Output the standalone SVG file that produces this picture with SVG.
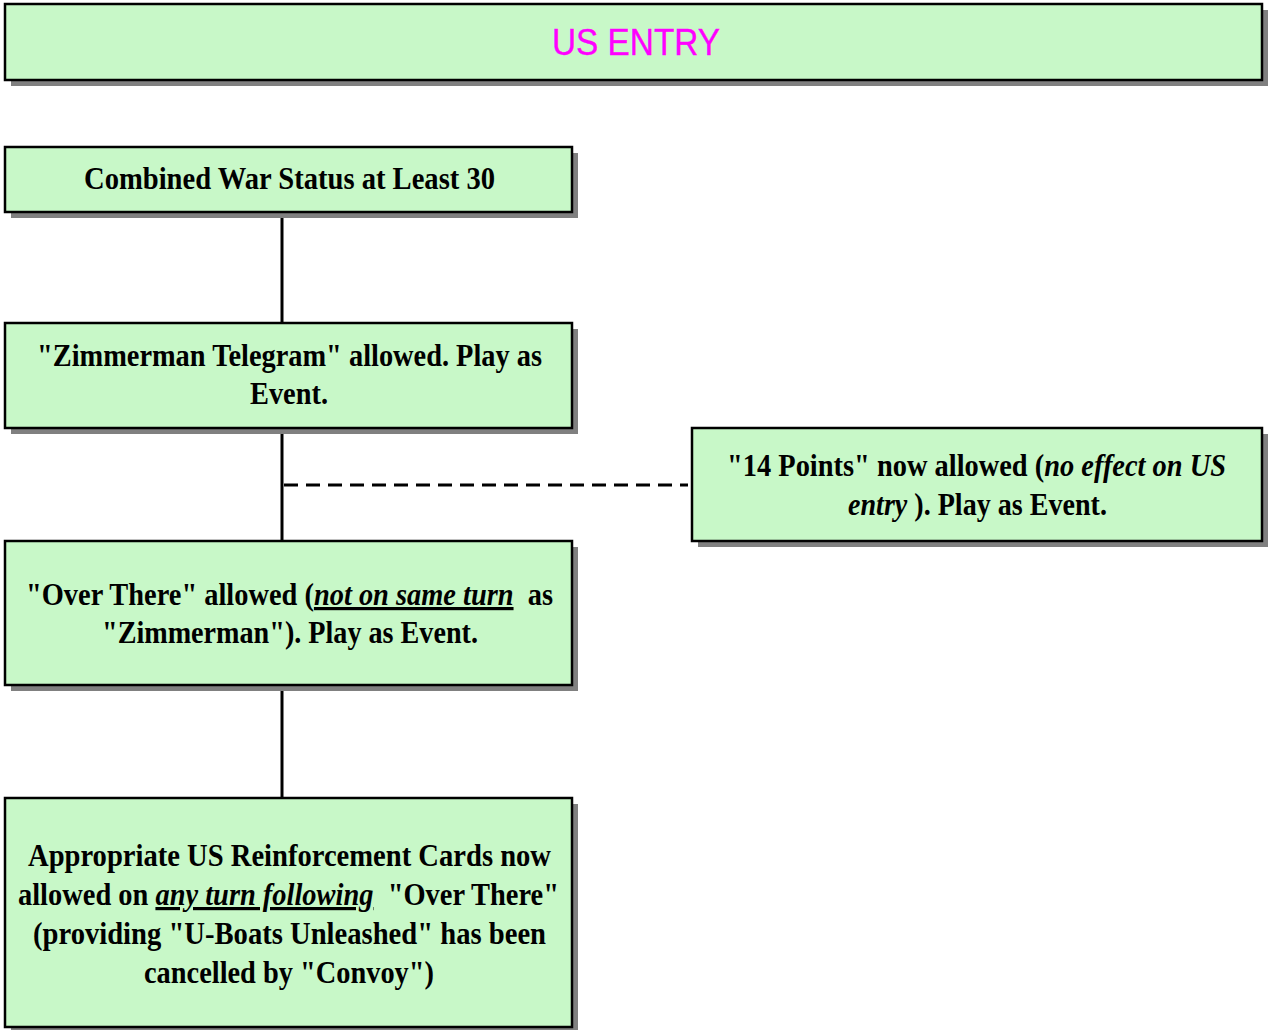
<svg xmlns="http://www.w3.org/2000/svg" width="1269" height="1030" viewBox="0 0 1269 1030">
<style>
.box{fill:#C8F8C8;stroke:#000;stroke-width:2.5}
.sh{fill:#808080}
.t{font-family:"Liberation Serif","Times New Roman",serif;font-weight:bold;font-size:32px;fill:#000}
.i{font-style:italic}
.ul{text-decoration:underline}
.c{stroke:#000;stroke-width:3;fill:none}
</style>
<rect width="1269" height="1030" fill="#fff"/>
<g id="connectors">
<line class="c" x1="282" y1="212" x2="282" y2="323"/>
<line class="c" x1="282" y1="428" x2="282" y2="541"/>
<line class="c" x1="282" y1="685" x2="282" y2="798"/>
<line class="c" x1="284" y1="485" x2="688" y2="485" stroke-dasharray="14,8"/>
</g>
<g id="title">
<rect class="sh" x="11" y="10" width="1257" height="76"/>
<rect class="box" x="5" y="4" width="1257" height="76"/>
<text x="552" y="55" textLength="168" lengthAdjust="spacingAndGlyphs" style="font-family:'Liberation Sans',Arial,sans-serif;font-size:37px;fill:#FF00FF;stroke:#FF00FF;stroke-width:0.4">US ENTRY</text>
</g>
<g id="n1">
<rect class="sh" x="11" y="153" width="567" height="65"/>
<rect class="box" x="5" y="147" width="567" height="65"/>
<text class="t" x="84" y="189" textLength="411" lengthAdjust="spacingAndGlyphs">Combined War Status at Least 30</text>
</g>
<g id="n2">
<rect class="sh" x="11" y="329" width="567" height="105"/>
<rect class="box" x="5" y="323" width="567" height="105"/>
<text class="t" x="37" y="366" textLength="505" lengthAdjust="spacingAndGlyphs">"Zimmerman Telegram" allowed. Play as</text>
<text class="t" x="250" y="404" textLength="78" lengthAdjust="spacingAndGlyphs">Event.</text>
</g>
<g id="n3">
<rect class="sh" x="698" y="434" width="570" height="113"/>
<rect class="box" x="692" y="428" width="570" height="113"/>
<text class="t" x="727" y="476" textLength="499" lengthAdjust="spacingAndGlyphs">"14 Points" now allowed (<tspan class="i">no effect on US</tspan></text>
<text class="t" x="848" y="515" textLength="259" lengthAdjust="spacingAndGlyphs"><tspan class="i">entry</tspan> ). Play as Event.</text>
</g>
<g id="n4">
<rect class="sh" x="11" y="547" width="567" height="144"/>
<rect class="box" x="5" y="541" width="567" height="144"/>
<text class="t" x="26" y="605" textLength="527" lengthAdjust="spacingAndGlyphs">"Over There" allowed (<tspan class="i ul">not on same turn</tspan>&#160; as</text>
<text class="t" x="102" y="643" textLength="376" lengthAdjust="spacingAndGlyphs">"Zimmerman"). Play as Event.</text>
</g>
<g id="n5">
<rect class="sh" x="11" y="804" width="567" height="229"/>
<rect class="box" x="5" y="798" width="567" height="229"/>
<text class="t" x="28" y="866" textLength="523" lengthAdjust="spacingAndGlyphs">Appropriate US Reinforcement Cards now</text>
<text class="t" x="18" y="905" textLength="541" lengthAdjust="spacingAndGlyphs">allowed on <tspan class="i ul">any turn following</tspan>&#160; "Over There"</text>
<text class="t" x="33" y="944" textLength="513" lengthAdjust="spacingAndGlyphs">(providing "U-Boats Unleashed" has been</text>
<text class="t" x="144" y="983" textLength="290" lengthAdjust="spacingAndGlyphs">cancelled by "Convoy")</text>
</g>
</svg>
